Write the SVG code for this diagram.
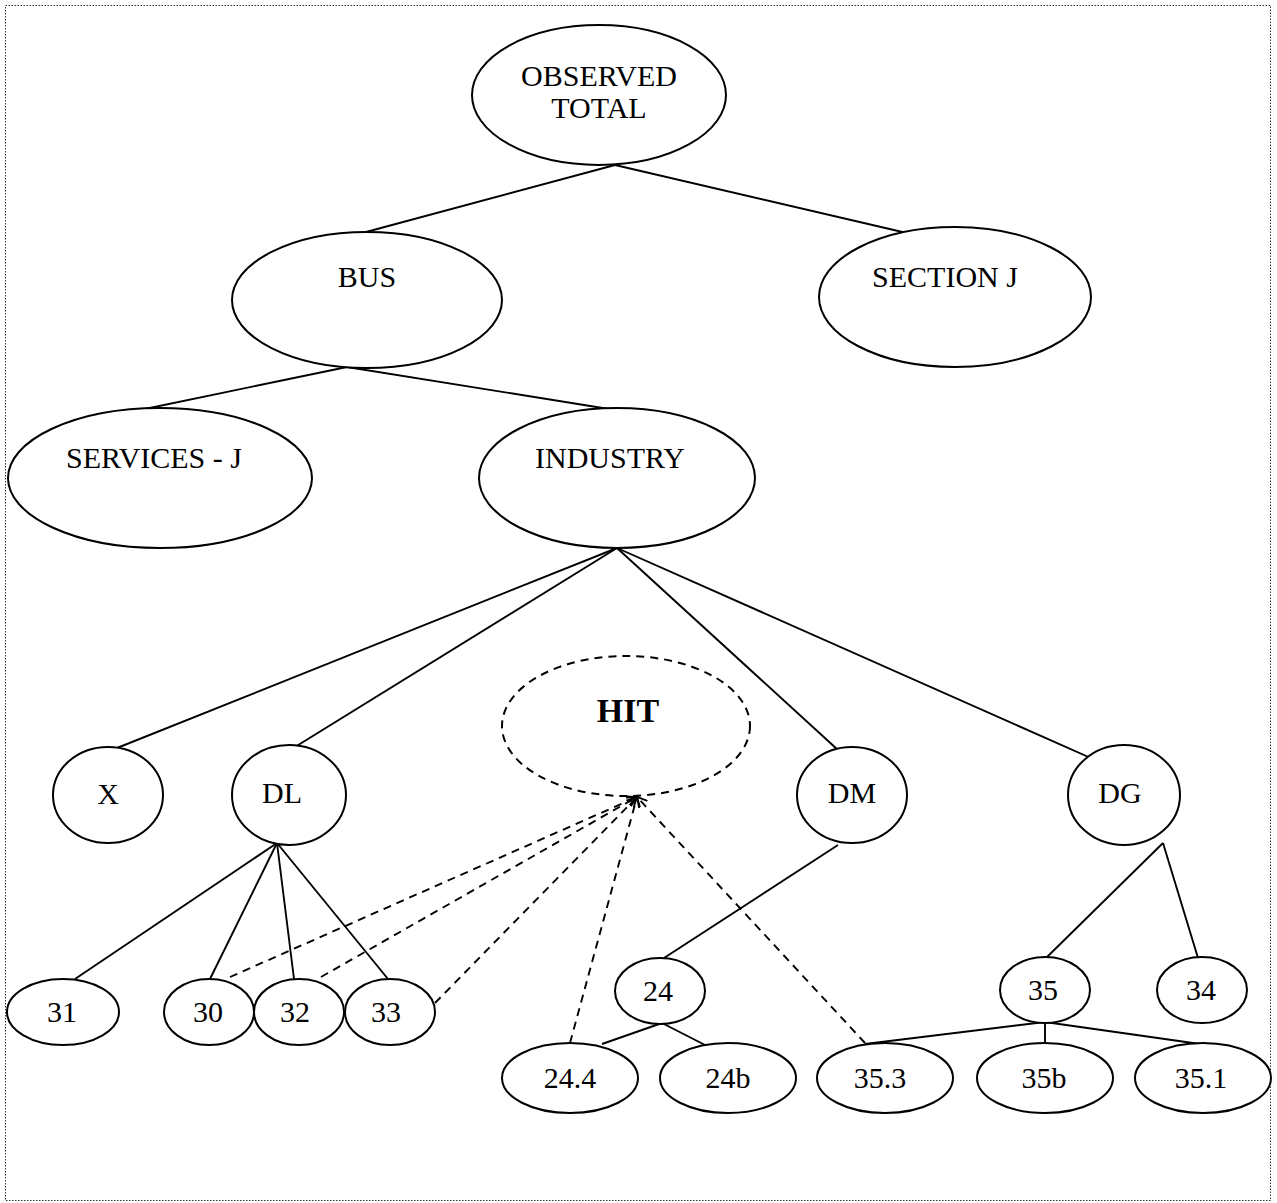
<svg xmlns="http://www.w3.org/2000/svg" width="1277" height="1203" viewBox="0 0 1277 1203">
<defs>
<style>
.n ellipse{fill:#fff;stroke:#000;stroke-width:2}
.n text{font-family:"Liberation Serif","Times New Roman",serif;font-size:30px;fill:#000;text-anchor:middle}
.hit ellipse{fill:none;stroke-dasharray:8 6}
.hit text{font-weight:bold;font-size:34px}
.c line{stroke:#000;stroke-width:1.9}
.c .d{stroke-dasharray:8 6;marker-end:url(#arr)}
</style>
<marker id="arr" markerWidth="12" markerHeight="12" refX="10" refY="5" orient="auto" markerUnits="userSpaceOnUse" viewBox="0 0 12 10">
<path d="M0,0 L10,5 L0,10" fill="none" stroke="#000" stroke-width="1.8"/>
</marker>
</defs>
<rect x="5.5" y="5.5" width="1265" height="1195" fill="#fff" stroke="#333" stroke-width="1" stroke-dasharray="1.5 1.5"/>
<g class="c" id="connectors">
<line x1="615" y1="165" x2="366" y2="232"/>
<line x1="615" y1="165" x2="911" y2="234"/>
<line x1="347" y1="367" x2="140" y2="410"/>
<line x1="347" y1="367" x2="615" y2="410"/>
<line x1="617" y1="548" x2="117" y2="748"/>
<line x1="617" y1="548" x2="295" y2="747"/>
<line x1="617" y1="548" x2="838" y2="750"/>
<line x1="617" y1="548" x2="1093" y2="759"/>
<line x1="277" y1="843" x2="75" y2="979"/>
<line x1="277" y1="843" x2="210" y2="979"/>
<line x1="277" y1="843" x2="294" y2="979"/>
<line x1="277" y1="843" x2="388" y2="979"/>
<line x1="838" y1="845" x2="664" y2="958"/>
<line x1="1163" y1="843" x2="1046" y2="958"/>
<line x1="1163" y1="843" x2="1198" y2="958"/>
<line x1="662" y1="1023" x2="602" y2="1044"/>
<line x1="662" y1="1023" x2="707" y2="1046"/>
<line x1="1045" y1="1022" x2="865" y2="1044"/>
<line x1="1045" y1="1022" x2="1045" y2="1044"/>
<line x1="1045" y1="1022" x2="1200" y2="1044"/>
<line class="d" x1="230" y1="977" x2="637" y2="797"/>
<line class="d" x1="321" y1="977" x2="637" y2="797"/>
<line class="d" x1="435" y1="1003" x2="637" y2="797"/>
<line class="d" x1="570" y1="1043" x2="637" y2="797"/>
<line class="d" x1="865" y1="1043" x2="637" y2="797"/>
</g>
<g class="n" id="observed_total"><ellipse cx="599" cy="95" rx="127" ry="70"/><text x="599" y="86">OBSERVED</text><text x="599" y="118">TOTAL</text></g>
<g class="n" id="bus"><ellipse cx="367" cy="300" rx="135" ry="68"/><text x="367" y="287">BUS</text></g>
<g class="n" id="section_j"><ellipse cx="955" cy="297" rx="136" ry="70"/><text x="945" y="287">SECTION J</text></g>
<g class="n" id="services_j"><ellipse cx="160" cy="478" rx="152" ry="70"/><text x="154" y="468">SERVICES - J</text></g>
<g class="n" id="industry"><ellipse cx="617" cy="478" rx="138" ry="70"/><text x="610" y="468">INDUSTRY</text></g>
<g class="n hit" id="hit"><ellipse cx="626" cy="726" rx="124" ry="70"/><text x="628" y="722">HIT</text></g>
<g class="n" id="x"><ellipse cx="108" cy="795" rx="55" ry="48"/><text x="108" y="804">X</text></g>
<g class="n" id="dl"><ellipse cx="289" cy="795" rx="57" ry="50"/><text x="282" y="803">DL</text></g>
<g class="n" id="dm"><ellipse cx="852" cy="795" rx="55" ry="48"/><text x="852" y="803">DM</text></g>
<g class="n" id="dg"><ellipse cx="1124" cy="795" rx="56" ry="50"/><text x="1120" y="803">DG</text></g>
<g class="n" id="n31"><ellipse cx="63" cy="1012" rx="56" ry="33"/><text x="62" y="1022">31</text></g>
<g class="n" id="n30"><ellipse cx="209" cy="1012" rx="45" ry="33"/><text x="208" y="1022">30</text></g>
<g class="n" id="n32"><ellipse cx="299" cy="1012" rx="45" ry="33"/><text x="295" y="1022">32</text></g>
<g class="n" id="n33"><ellipse cx="390" cy="1012" rx="45" ry="33"/><text x="386" y="1022">33</text></g>
<g class="n" id="n24"><ellipse cx="660" cy="991" rx="45" ry="33"/><text x="658" y="1001">24</text></g>
<g class="n" id="n24_4"><ellipse cx="570" cy="1078" rx="68" ry="35"/><text x="570" y="1088">24.4</text></g>
<g class="n" id="n24b"><ellipse cx="728" cy="1078" rx="68" ry="35"/><text x="728" y="1088">24b</text></g>
<g class="n" id="n35"><ellipse cx="1045" cy="990" rx="45" ry="33"/><text x="1043" y="1000">35</text></g>
<g class="n" id="n34"><ellipse cx="1202" cy="990" rx="45" ry="33"/><text x="1201" y="1000">34</text></g>
<g class="n" id="n35_3"><ellipse cx="885" cy="1078" rx="68" ry="35"/><text x="880" y="1088">35.3</text></g>
<g class="n" id="n35b"><ellipse cx="1045" cy="1078" rx="68" ry="35"/><text x="1044" y="1088">35b</text></g>
<g class="n" id="n35_1"><ellipse cx="1203" cy="1078" rx="68" ry="35"/><text x="1201" y="1088">35.1</text></g>
</svg>
